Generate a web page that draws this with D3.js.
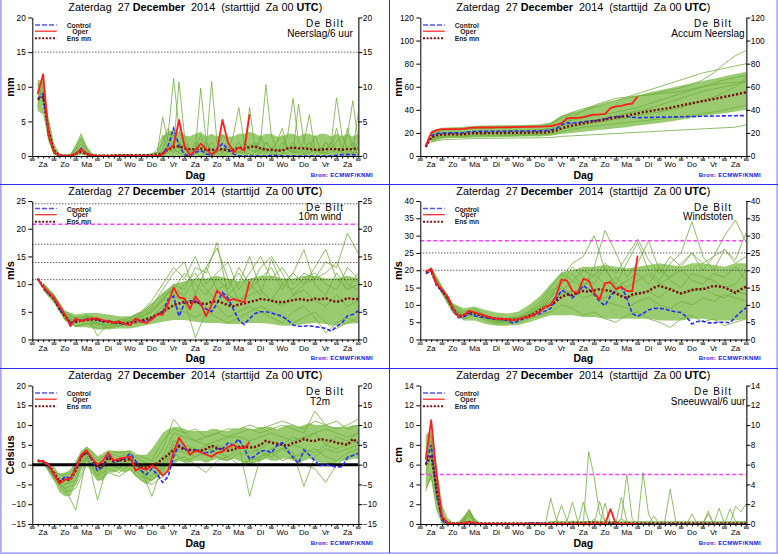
<!DOCTYPE html>
<html>
<head>
<meta charset="utf-8">
<script src="https://cdn.jsdelivr.net/npm/d3@7"></script>
<style>
  body { margin: 0; background: #fff; }
  svg { display: block; }
</style>
</head>
<body>
<script>
// ---- axis labels ----
var dayLabels = ["Za","Zo","Ma","Di","Wo","Do","Vr","Za","Zo","Ma","Di","Wo","Do","Vr","Za"];
var titleParts = [["Zaterdag  27 ", 400], ["December", 700], ["  2014  (starttijd  Za 00 ", 400], ["UTC", 700], [")", 400]];

// ---- panel 1: neerslag per 6 uur (6h steps from +6h) ----
var nsTicks = [0, 5, 10, 15, 20];
var nsLo = [6.5,6,2,0.2,0,0,0,0,0.2,0, 0,0,0,0,0,0,0,0,0,0, 0,0,0,0,0,0,0,0,0,0,
            0,0,0,0,0,0,0,0,0,0, 0,0,0,0,0,0,0,0,0,0, 0,0,0,0,0,0,0,0,0,0];
var nsHi = [11,10.8,5.5,1.8,0.4,0.2,0.3,1.5,3.0,1.5, 0.4,0.2,0.2,0.2,0.2,0.3,0.3,0.3,0.2,0.3,
            0.3,0.4,0.6,2.8,3.5,3.8,3.5,3,2.8,3.2, 3.5,2.8,3.2,2.8,3.2,2.8,2.8,3.2,3.2,3.5,
            3.2,2.8,3.2,3.2,2.8,2.8,3.2,3.2,2.8,3.2, 3.2,2.8,3.2,3.2,2.8,3.2,2.8,3.2,2.8,3.2];
var nsMembers = [
  [9,10,4,0.5,0,0,0,0.5,1.2,0.3, 0,0,0,0,0,0,0,0,0,0, 0,0,0.2,
   1,3,11.2,4,1,0.5,2,1,0.5,2, 1,0.5,1,3,7,2,1,0.5,2,10.3, 3,1,0.5,1,2,1,0.5,1,3,1, 0.5,2,8.4,3,1,2,1],
  [8,9,3,0.3,0,0,0.2,1,2.5,0.8, 0.1,0,0,0,0,0,0,0,0,0.1, 0.1,0.3,0.5,
   5.6,2,1,10.7,3,0.5,1,9.8,2,0.5, 1,0.5,2,1,0.5,1,7,1,0.5,2, 1,0.5,1,3,8.3,2,1,0.5,1,0.5, 2,1,0.5,1,3,8,2],
  [10.5,8,5,1,0.2,0,0,1.5,3.2,1, 0.2,0,0,0,0,0,0.2,0.2,0,0, 0,0.3,0.5,
   2,4,1,0.5,2,0.5,1,3,1,10.8, 2,1,0.5,1,2,0.5,1,0.5,3,1, 0.5,2,4,1,0.5,1,2,6,1,0.5, 1,2,1,0.5,4,1,6.3],
  [7,11,3,0.2,0,0,0,0.3,0.8,0.2, 0,0,0,0,0,0,0,0,0,0, 0,0,0.1,
   0.5,1.5,3,2,0.5,0,0.5,1,0.5,0, 0.5,1,1,0.5,0.5,1,1.5,2,1,0.5, 1,2,3,1,0.5,0.5,1,2,1,0.5, 0.5,1,2,3,1,0.5,1],
  [8.5,9.5,2.5,0.5,0.1,0,0,0.8,1.8,0.5, 0,0,0,0,0,0,0,0,0,0, 0,0.2,1,
   3,1,0.5,2,1,0.5,0.2,1,2,1, 0.5,3,2,1,0.5,2,1,0.5,1,2, 1,0.5,2,1,0.5,7.5,2,1,0.5,1, 2,1,4,1,0.5,1,2],
  [9,9,4,0.5,0,0,0,0.5,1,0.3, 0,0,0,0,0,0,0,0,0,0, 0,0,0,
   0,0.5,1,0.5,0,0,0.5,0,0.3,0, 0.5,0,0.5,1,0.5,0.5,0.3,0,0.5,1, 0.5,0,0.3,0.5,1,0.5,0.3,0.5,1,0.5, 0.3,0.5,1,0.5,0.3,0.5,0.5]
];
var nsControl = [8.2,9,3,0.5,0,0,0,0.3,1.1,0.3, 0,0,0,0,0,0,0,0,0,0, 0,0,0,
                 0.3,1.5,4.0,1.5,0.2,0,0.5,0.8,0.3,0.1, 1.0,1.8,1.0,0.3,0,0,0,0,0,0,
                 0.1,0.1,0,0,0,0,0,0,0,0, 0,0,0.1,0.2,0.2,0.2,0.1];
var nsOper = [9,11.8,3,0.5,0.1,0,0,0.3,1.0,0.3, 0.1,0,0,0,0,0,0,0,0,0, 0,0,0,0.2,
              1.0,1.5,5.2,1.5,0.1,0.8,1.8,1.0,0.2,0.8,5.2,2,0.5,1.2,0.8,6.0];
var nsMean = [8.2,8.5,3.5,0.8,0.1,0.05,0.05,0.3,0.6,0.3, 0.1,0.05,0.05,0.05,0.1,0.1,0.1,0.1,0.1,0.1, 0.1,0.1,0.2,
              0.4,0.9,1.3,1.4,1.1,1.0,1.0,1.1,0.9,0.9, 0.9,1.0,0.8,0.9,1.2,1.1,1.3,1.4,1.1,0.9,
              0.9,0.8,0.8,1.1,1.2,1.1,1.1,1.0,0.9,0.9, 1.0,1.0,1.0,0.9,1.0,1.0,1.1];

// ---- panel 2: accumulated neerslag (band/members 12h steps from +12h) ----
var acTicks = [0, 20, 40, 60, 80, 100, 120];
var acLo = [12,15,15.5,15.5,16,16,16.2,16.4,16.6,16.8, 17,17.5,19,20,21,22,23,24,25,26.5,
            27.5,28.5,30,31.5,33,34.5,36,37,38.5,40];
var acHi = [22,24.5,25,25.3,26.3,26.5,26.6,26.7,26.8,27, 27.2,29,35,38,40,43,45,47.5,50,52.5,
            55,57,59,61,63,65,67,69,71,73];
var acMembers = [
  [20,23,23.5,24,25,25.2,25.4,25.6,25.8,26, 26.3,28,34,38,41,43,46,48,50,52, 53,55,57,59,62,66,72,80,87,91.5],
  [19,22,22.5,22.8,23.8,24,24.2,24.4,24.6,24.8, 25,27,33,36,39,42,45,48,51,54, 57,60,63,66,69,72,74,76,78,80],
  [12,14,14.5,14.8,15.2,15.3,15.4,15.5,15.6,15.7, 15.8,16,17,17.5,18,18.5,19,19.5,20,20.5, 21,21.5,22,22.5,23,23.5,24,24.5,25,27],
  [17,20,20.5,20.7,21.5,21.7,21.9,22,22.2,22.4, 22.6,24,29,31,33,35,36,38,40,42, 45,48,51,54,57,60,63,66,68,70],
  [15,18,18.5,18.7,19.5,19.7,19.9,20,20.2,20.3, 20.5,22,26,28,30,31,33,35,37,39, 41,44,47,50,53,56,58,60,62,64],
  [14,17,17.3,17.5,18,18.2,18.3,18.4,18.5,18.7, 18.9,20,23,25,27,29,30,32,33,35, 37,38,40,42,45,48,51,55,60,68],
  [16,19,19.5,19.7,20.3,20.5,20.7,20.9,21,21.2, 21.4,23,27,33,40,44,47,50,51,52, 53,54,55,56,58,60,62,63,64,65],
  [13,16,16.4,16.6,17.2,17.4,17.5,17.6,17.8,18, 18.2,19,21,23,25,26,27,28,29,30, 31,32,33,34,35,37,38,40,42,44]
];
var acControl = [8,17.5,19.5,19.8,20,20,20,20.2,21,21.2,
                 21.3,21.3,21.4,21.4,21.5,21.5,21.6,21.6,21.7,21.7,21.8,21.9,22.0,
                 22.5,23.5,27,28.5,28.8,28.8,29.5,30.3,30.8,31,32,33.5,34,34.2,34.2,33.5,33.2,
                 33.3,33.4,33.5,33.6,33.7,33.8,33.9,34,34.1,34.2,34.3,34.4,34.5,34.6,34.7,34.8,34.9,34.9,35,35];
var acOper = [9,20,22.5,23.2,23.3,23.3,23.3,23.5,24.3,24.6, 24.7,24.7,24.7,24.8,24.8,24.9,25,25.1,25.2,25.3,
              25.4,25.5,25.6,25.9, 27,28.5,32.5,33,33,33.7,35,35.8,36,36.5, 41.5,43,43.5,44.8,45.5,51.5];
var acMean = [8,16,18,18.5,18.7,18.7,18.7,18.8,19.5,19.7,
              19.7,19.8,19.8,19.9,19.9,20,20,20.1,20.1,20.2,20.3,20.4,20.5,
              21,22,24,25.5,26.5,27.5,28.3,29.2,30,30.8, 31.6,32.5,33.2,34,35,36,37,38,38.8,39.5,
              40.3,41,41.8,42.8,43.8,44.8,45.8,46.7,47.5,48.5, 49.4,50.3,51.3,52.2,53.2,54.2,55.3];

// ---- panel 3: 10m wind (band/members 12h) ----
var wiTicks = [0, 5, 10, 15, 20, 25];
var wiBft = [10.8, 13.9, 17.2, 24.5];
var wiStorm = [20.8];
var wiLo = [8.8,6.5,3.5,2.2,2.2,1.8,1.8,2,2,2.4, 2.8,3.2,3.5,3.5,3.2,3,3,2.8,2.8,3, 3,2.8,2.5,2.5,2.8,3,2.8,2.5,2.8,3];
var wiHi = [10,8.2,5.2,4.5,4.8,4.8,4.5,4.2,4.2,5, 6.5,8.5,10,10.5,11,11,11.5,11,10.5,11, 11.5,11.5,11,11,11.5,11.5,11,11,11.5,11];
var wiMembers = [
  [9.8,7.8,4.2,3.5,3.8,2.5,3.5,3,3.5,4, 5,7,10,9,13,12,17.5,8,10,15, 9,7,10,12,16.2,10,8,12,9,10],
  [10,7.5,4.5,3,4.5,0.6,2.8,2.5,3.2,4.5, 6,9,12,14,8,13,16.5,11,7,9, 13,15,12,8,10,13,16.3,11,9,12],
  [9.5,7,3.8,2.5,2.8,3,2,2.5,3,3.5, 4,6,8,7,0.3,5,6,4,5,6, 5,4,3,5,6,4,1.2,3,4,3],
  [10,8,4.5,4,4,3.5,3,3.5,4,5, 7,10,13,11,15,10,12,14,9,12, 15,11,13,10,12,11,14,13,19.2,15.5],
  [9.3,7.2,3.5,2.3,3,2,2.2,2.5,2.8,3, 4,5,6,5,4,5,4,3,4,5, 6,5,4,3,4,5,3,2,3,4],
  [10.2,8,5,3.8,4.3,3.8,3.2,3.2,3.8,4.8, 6.5,8,9,12,10,8,11,9,13,10, 8,14.5,10,9,11,12,10,9,13,11],
  [9.6,7.5,4,3,3.5,3,2.5,2.8,3.5,4, 5.5,7,8,10,12,9,7,8,7,8, 9,7,6,8,9,7,6,8,6,7],
  [10,7.8,4.4,3.2,3.6,2.8,2.6,3,3.2,4.2, 5,7.5,9,8,11,13,9,10,12,9, 11,13,9,12,10,11,12,14,10,9]
];
var wiControl = [11,9.3,8.3,7.3,5.5,4.5,2.8,3.5,3.4,3.7, 3.8,3.6,3.2,3.4,3.0,3.0,2.7,2.8,3.6,3.5,
                 3.2,3.8,4.5,5.0,7.2,7.8,4.2,6.5,7.0,7.0, 6.2,5.5,5.0,6.5,8.5,7.5,5.5,3.5,2.7,3.8,
                 4.7,5.0,5.0,4.8,4.5,4.2,3.5,2.6,2.4,2.4, 2.5,2.3,2.2,2.0,1.5,2.3,3.0,4.3,4.5,5.2];
var wiOper = [11,9.5,8.5,7.5,6,4.5,2.4,3.8,3.3,3.6, 3.8,3.8,3.5,3.3,3.0,3.3,2.8,2.6,3.8,3.2,
              3.0,3.6,4.5,4.5,6.5,9.4,7.6,7.4,5.5,7.8, 6.5,4.2,6.3,8.8,8.0,7.0,7.3,7.0,6.7,10.5];
var wiMean = [11,9.5,8.3,7.3,5.5,4.2,3.0,3.2,3.4,3.5, 3.6,3.5,3.3,3.2,3.1,3.0,2.9,3.0,3.2,3.4,
              3.7,4.0,4.5,5.0,5.6,6.2,6.5,6.8,6.6,6.8, 6.5,6.4,6.8,6.9,6.6,6.2,6.0,6.3,6.5,6.8,
              7.0,7.3,7.2,7.0,6.8,6.7,6.9,7.1,7.3,7.2, 7.0,7.4,7.2,7.5,7.0,6.8,7.0,7.5,7.3,7.3];

// ---- panel 4: windstoten (band/members 12h) ----
var gsTicks = [0, 5, 10, 15, 20, 25, 30, 35, 40];
var gsDotted = [20, 25];
var gsStorm = [28.5];
var gsLo = [19,13,7.5,5.5,5.5,4.5,4,4,4.2,5, 6,7,7,7,6.5,6.5,6,6,6,6, 6,5.5,5.5,5.5,6,6,5.5,5.5,5.5,6];
var gsHi = [21,15.5,10.5,9,9.5,8.5,7.8,7.5,8,10, 12.5,16,19.5,20,21,21,21.5,21,20.5,21, 21.5,22,21.5,21,22,22,21.5,21,22,22];
var gsMembers = [
  [20,14,9,7,8,6,5.5,5.5,6,7, 9,12,18,22,24,30,20,16,22,28, 20,17,22,25,34,24,20,26,22,24],
  [20.5,15,10,8,9,7,6,6,6.5,8, 10,14,16,19,15,21,31.5,25,18,22, 28.5,20,18,22,25,20,24,30,34.5,28],
  [19,13.5,8,6,7,5.5,4.5,4.5,5,6, 7,8,10,9,7,8,6,5,7,8, 6,5,3.5,6,7,5,6,4,5,6],
  [20,14.5,9.5,7.5,8.5,7,6,6,6.5,8, 11,15,19,17,20,18,22,19,24,29, 23,19,24,21,25,22,24,26,23,31],
  [19.5,14,8.5,6.5,7.5,6.5,5,5,5.5,7, 8,11,13,14,12,13,11,10,9,11, 12,10,9,11,10,12,11,13,12,11],
  [20,14,9,7,8,6.5,5.5,5.5,6,7.5, 9.5,13,16,21,18,16,21,15,17,19, 16,21,17,15,19,18,17,15,16,20],
  [19.5,14,9,7,8,6,5,5.5,6,7, 9,12,15,13,16,13,12,14,12,13, 14,12,15,13,14,15,13,12,14,13],
  [20,14.5,9,6.8,7.8,6.2,5.2,5.2,5.8,7.2, 9,11,14,17,15,19,16,18,15,17, 19,16,18,20,17,16,19,18,21,17]
];
var gsControl = [19,19.8,15.5,14,12,8.5,6.3,6.5,7.5,6.8, 6.5,6.3,6.0,5.8,5.8,5.5,4.8,5.3,6,6.5,
                 7.0,7.5,8.2,9.0,11.5,14.2,13.5,12.0,13.5,15.5, 14.5,13.0,11.0,9.8,12.5,14.5,15.3,12.0,7.5,6.7,
                 7.5,8.5,9.0,9.0,8.8,8.3,8.0,7.8,6.5,4.5, 5.2,5.3,4.8,4.8,5.0,5.0,4.8,6.5,8.0,9.2];
var gsOper = [19.5,20.5,16,14.5,12.5,9,6.5,7.0,8.3,7.8, 7.3,6.8,6.3,6.0,6.0,5.8,5.6,5.8,6.3,6.5,
              7.2,8.0,9.5,10.0,12.5,17.3,17.0,14.0,13.5,17.5, 17.0,13.5,11.5,16.3,16.5,14.5,15.2,14.0,14.0,24.2];
var gsMean = [19.5,20,16,14,12,9,6.8,7.0,8.0,7.5, 7.0,6.7,6.3,6.0,5.9,5.8,5.7,5.9,6.3,6.8,
              7.5,8.5,9.3,10.0,11.0,12.3,13.0,12.8,13.5,14.0, 13.8,14.2,14.5,14.3,14.0,13.3,12.5,12.0,13.0,13.3,
              13.5,14.0,15.0,15.5,15.0,14.5,13.8,13.3,13.8,14.3, 14.5,14.5,15.0,15.5,15.3,15.0,14.3,13.5,14.5,15.3];

// ---- panel 5: T2m (band 6h, members 12h) ----
var tTicks = [-15, -10, -5, 0, 5, 10, 15, 20];
var tLo = [0.5,0.3,-1.5,-4,-7,-8,-8,-5,-1,1, -2,-4,-4,-2,-2,-1.5,-2,-1.5,-3,-4,
           -5,-4,-3,-2.5,-1,0,1,0.5,0.5,1, 1,0.5,1,1.5,1,1,1.5,1,0.5,0,
           0.5,1,1.5,1,1,1.5,1.5,1,0.5,1, 1.5,1,0.5,0.5,0,0.5,1,1,1.5,1.5];
var tHi = [1.3,1.2,0.5,-0.5,-2.5,-2,-1.5,1,3.5,4.5, 3.5,2,2.5,3.5,3.5,3.5,3.5,3.5,2.5,2.5,
           2.5,4,6,8,9,9.5,9.5,9,8.5,8.5, 8.5,8.5,9,9,8.5,8.5,9,9,9.5,9,
           9,9.5,9.5,9.5,9,9.5,10,10,9.5,10, 10.5,10,10,10,9.5,9.5,9.5,9.5,10,10];
var tMembers = [
  [0.5,-4,-6,-11.5,2,-3,2,0,1.5,-2, -4,-2,5,4,3,5,3,4,6,3, 4,6,5,7,6,8,5,7,6,8],
  [1,-3,-5,-3,3,-9,1,-1,2,-1, -8,0,6,5,4,3,5,4,5,-8, 2,4,5,3,-5.5,2,4,3,4,5],
  [1,-2,-3,-1,4,1,3,2,3,1, 0,4,11.5,8,6,7,8,7,8,9, 8,9,10,9,8,13.5,10,9,10,11.5],
  [0.8,-3.5,-7,-6,0,-4,-2,-3,-1,-4, -5,-3,1,2,0,-2,1,2,0,1, 2,3,1,2,0,-1,-4.5,0,2,3],
  [1,-2.5,-4,-2,3,0,2,1,2,0, -1,2,8,7,6,5,6,7,7,6, 7,8,7,6,7,8,9,8,7,8],
  [0.5,-3,-5,-4,2,-2,0,-1,1,-2, -3,0,4,3,2,3,2,1,3,2, 1,3,4,2,3,4,2,1,3,4],
  [1,-2,-2.5,0,4.5,2,3.5,3,3.5,2, 1,6,9,8,9,7,8,9,9,10, 9,10,11,10,9,11,10,11,9,10],
  [0.7,-3,-6,-5,1,-3,-1,-2,0,-3, -4,-1,3,1,2,4,3,2,4,5, 3,2,4,5,4,3,5,4,5,6]
];
var tControl = [1.0,0.8,-0.5,-2.5,-4.5,-3.0,-3.5,-0.5,2.0,3.3, 1.0,-1.5,-0.5,2.5,0.5,1.0,1.5,2.8,1.0,-1.5,
                -2.5,-1.0,-2.5,-4.5,-3.0,2.0,5.0,4.0,3.5,3.8, 3.2,3.0,3.2,4.0,4.0,5.5,5.0,6.5,4.0,1.4,
                2.2,3.4,3.6,3.0,4.8,5.6,3.5,1.8,0.3,3.7, 2.4,1.0,-0.3,0.0,-0.3,-0.6,-0.5,1.8,2.3,2.8];
var tOper = [1.0,0.8,0.0,-2.5,-4.8,-3.8,-3.6,-1.0,2.5,3.6, 1.5,0.0,1.0,3.0,1.0,1.5,1.8,2.0,-1.5,-0.8,
             -1.3,-0.3,-1.0,-2.8,-1.5,3.0,6.8,4.8,2.5,3.5, 3.2,2.5,2.0,3.0,3.2,4.5,5.0,4.2,4.2,5.7];
var tMean = [1.0,0.8,0.0,-2.0,-4.3,-3.8,-3.8,-1.5,2.0,3.2, 1.5,-0.8,-0.3,1.8,0.8,1.2,1.0,1.5,0.0,-0.5,
             -0.8,0.0,0.3,1.5,2.5,3.8,4.5,3.8,3.8,3.5, 3.5,4.0,4.8,4.2,3.8,3.5,3.8,4.5,4.5,4.3,
             4.5,5.0,6.0,5.5,5.3,5.0,4.8,5.5,5.8,6.5, 6.0,6.0,6.5,6.2,6.0,5.5,5.3,5.0,6.5,5.5];

// ---- panel 6: sneeuwval per 6 uur (6h steps) ----
var snTicks = [0, 2, 4, 6, 8, 10, 12, 14];
var snAlarm = [5];
var snLo = [3.5,4.5,1.5,0,0,0,0,0,0,0, 0,0,0,0,0,0,0,0,0,0, 0,0,0,0,0,0,0,0,0,0,
            0,0,0,0,0,0,0,0,0,0, 0,0,0,0,0,0,0,0,0,0, 0,0,0,0,0,0,0,0,0,0];
var snHi = [9,9.5,6,2,0.6,0.2,0.2,0.8,1.5,0.6, 0.15,0.15,0.15,0.15,0.15,0.15,0.15,0.15,0.15,0.15,
            0.15,0.15,0.15,0.3,0.3,0.3,0.3,0.3,0.3,0.3, 0.3,0.3,0.3,0.3,0.3,0.3,0.3,0.3,0.3,0.3,
            0.3,0.3,0.3,0.3,0.3,0.3,0.3,0.3,0.3,0.3, 0.3,0.3,0.3,0.3,0.3,0.3,0.3,0.3,0.3,0.3];
var snMembers = [
  [6,8,3,0.3,0,0,0,0.5,1.5,0.3, 0,0,0,0,0,0,0,0,0,0, 0,0,0,2.6,0.5,0,0,0.3,0,0,
   7.3,4.8,1,0.3,0,0,0.5,0.2,0,0, 5.2,1,0,0,0,0,0,0,0,0, 0,0,0,0,0,0,0,1.8,1.2,2.1],
  [7,9,4,0.5,0,0,0,0.3,1.2,0.2, 0,0,0,0,0,0,0,0,0,0.1, 0,0,0,0,0.3,1.9,0.3,2.2,0.2,0,
   0,0,2.3,0.3,0,0,2.7,0.3,0,0, 0,0,0,0,0,0,0,0,0,0, 0,0,1.0,0,0,0,0,0,0,0],
  [6.5,8.5,3.5,0.4,0,0,0,0.6,1.4,0.3, 0,0,0,0,0,0,0,0,0,0, 0,0,0,0,0,0,0,0,0,2.2,
   0.3,0,0,0,0,0,0.5,5.0,0.5,0, 0,0,0,0,0.3,3.5,0.3,0,0,1.0, 0,0,1.3,0,1.6,0,0,0,0,0],
  [5,7,2.5,0.2,0,0,0,0.4,1.0,0.2, 0,0,0,0,0,0,0,0,0,0, 0,0,0,0,0,0,0,0,0,0,
   0,0.5,0,2.1,0,0,0,0,0,0, 0,0,0.8,0,0,0,0,0,0,0, 0,0,0,0,0,0,1.5,0.3,0,0],
  [3.3,5,1.5,0.1,0,0,0,0.3,0.8,0.1, 0,0,0,0,0,0,0,0,0,0, 0,0,0,0,0,0,0,0,0,0,
   0,0,0,0,0,0,0,0,0,0, 0,0,0,0,0,0,0,0,0,0, 0,0,0,0,0,0,0,0,0,0]
];
var snControl = [6,8,3,0.4,0,0,0,0.1,0.1,0, 0,0,0,0,0,0,0,0,0,0.1, 0.1,0.1,0,0,0,0,0,0,0,0,
                 0,0,0,0,0,0,0,0,0,0, 0,0,0,0,0,0,0,0,0,0, 0,0,0,0,0,0,0,0,0,0];
var snOper = [6.5,10.5,5,0.8,0.1,0,0,0.1,0.2,0.1, 0,0,0,0,0,0,0,0,0,0,
              0,0,0,0,0,0,0,0,0,0, 0,0,0,0,1.5,0,0,0,0,0];
var snMean = [6,7,3.5,0.6,0.1,0.05,0.05,0.1,0.2,0.1, 0.05,0.05,0.05,0.05,0.05,0.05,0.05,0.05,0.05,0.05,
              0.05,0.05,0.05,0.05,0.05,0.05,0.05,0.1,0.1,0.1, 0.15,0.15,0.1,0.1,0.1,0.1,0.05,0.05,0.05,0.05,
              0.05,0.05,0.05,0.05,0.05,0.05,0.05,0.05,0.05,0.05, 0.05,0.05,0.05,0.05,0.05,0.05,0.05,0.05,0.05,0.05];

// ---- panel table ----
var panels = [
  {col:0, row:0, unit:"mm", name:"Neerslag/6 uur", domain:[0,20], ticks:nsTicks, bandStep:6, memberStep:6,
   lo:nsLo, hi:nsHi, members:nsMembers, control:nsControl, oper:nsOper, mean:nsMean, dotted:[15], storm:[], zero:false},
  {col:1, row:0, unit:"mm", name:"Accum Neerslag", domain:[0,120], ticks:acTicks, bandStep:12, memberStep:12,
   lo:acLo, hi:acHi, members:acMembers, control:acControl, oper:acOper, mean:acMean, dotted:[], storm:[], zero:false},
  {col:0, row:1, unit:"m/s", name:"10m wind", domain:[0,25], ticks:wiTicks, bandStep:12, memberStep:12,
   lo:wiLo, hi:wiHi, members:wiMembers, control:wiControl, oper:wiOper, mean:wiMean, dotted:wiBft, storm:wiStorm, zero:false},
  {col:1, row:1, unit:"m/s", name:"Windstoten", domain:[0,40], ticks:gsTicks, bandStep:12, memberStep:12,
   lo:gsLo, hi:gsHi, members:gsMembers, control:gsControl, oper:gsOper, mean:gsMean, dotted:gsDotted, storm:gsStorm, zero:false},
  {col:0, row:2, unit:"Celsius", name:"T2m", domain:[-15,20], ticks:tTicks, bandStep:6, memberStep:12,
   lo:tLo, hi:tHi, members:tMembers, control:tControl, oper:tOper, mean:tMean, dotted:[], storm:[], zero:true},
  {col:1, row:2, unit:"cm", name:"Sneeuwval/6 uur", domain:[0,14], ticks:snTicks, bandStep:6, memberStep:6,
   lo:snLo, hi:snHi, members:snMembers, control:snControl, oper:snOper, mean:snMean, dotted:[], storm:snAlarm, zero:false}
];

// ---- layout ----
var width = 778, height = 554;
var colX = [0, 388];
var rowY = [0, 183.5, 368];
var plotL = 32.3, plotR = 358.3, plotT = 17.5, plotB = 156;
var font = '"Liberation Sans", Arial, Helvetica, sans-serif';

var svg = d3.select("body").append("svg")
  .attr("width", width)
  .attr("height", height)
  .style("font-family", font);

svg.append("rect").attr("width", width).attr("height", height).attr("fill", "#fff");

panels.forEach(drawPanel);

// panel frame lines
svg.append("path")
  .attr("d", "M0.8,0 V553.2 H777.2 V0")
  .attr("fill", "none").attr("stroke", "#a9a9f5").attr("stroke-width", 1.8);
svg.append("line").attr("x1", 389.5).attr("x2", 389.5).attr("y1", 0).attr("y2", 553)
  .attr("stroke", "#2d2df0").attr("stroke-width", 1);
[184.5, 368.5].forEach(function(yy){
  svg.append("line").attr("x1", 0).attr("x2", 778).attr("y1", yy).attr("y2", yy)
    .attr("stroke", "#2d2df0").attr("stroke-width", 1);
});

function drawPanel(p) {
  var x0 = colX[p.col], y0 = rowY[p.row];
  var g = svg.append("g");

  var x = d3.scaleLinear().domain([0, 360]).range([x0 + plotL, x0 + plotR]);
  var y = d3.scaleLinear().domain(p.domain).range([y0 + plotB, y0 + plotT]);

  // ensemble core band
  var band = d3.area()
    .x(function(d, i){ return x(p.bandStep * (i + 1)); })
    .y0(function(d){ return y(d[0]); })
    .y1(function(d){ return y(d[1]); });
  g.append("path")
    .datum(d3.zip(p.lo, p.hi))
    .attr("d", band)
    .attr("fill", "#9acb70");

  // individual ensemble members
  var memberLine = d3.line()
    .x(function(d, i){ return x(p.memberStep * (i + 1)); })
    .y(function(d){ return y(d); });
  g.selectAll(".member")
    .data(p.members)
    .enter()
    .append("path")
    .attr("class", "member")
    .attr("d", memberLine)
    .attr("fill", "none")
    .attr("stroke", "#72ae3e")
    .attr("stroke-width", 0.8);

  // reference levels
  p.dotted.forEach(function(v){
    g.append("line").attr("x1", x(0)).attr("x2", x(360)).attr("y1", y(v)).attr("y2", y(v))
      .attr("stroke", "#000").attr("stroke-width", 0.9).attr("stroke-dasharray", "1,2");
  });
  p.storm.forEach(function(v){
    g.append("line").attr("x1", x(0)).attr("x2", x(360)).attr("y1", y(v)).attr("y2", y(v))
      .attr("stroke", "#ff3cff").attr("stroke-width", 1.6).attr("stroke-dasharray", "4,2.5");
  });
  if (p.zero) {
    g.append("line").attr("x1", x(0)).attr("x2", x(360)).attr("y1", y(0)).attr("y2", y(0))
      .attr("stroke", "#000").attr("stroke-width", 3);
  }

  var line6 = d3.line()
    .x(function(d, i){ return x(6 * (i + 1)); })
    .y(function(d){ return y(d); });

  g.append("path").datum(p.control).attr("d", line6)
    .attr("fill", "none").attr("stroke", "#2a2aff").attr("stroke-width", 1.6)
    .attr("stroke-dasharray", "4,2");
  g.append("path").datum(p.mean).attr("d", line6)
    .attr("fill", "none").attr("stroke", "#7a1010").attr("stroke-width", 2.4)
    .attr("stroke-dasharray", "2.2,1.8");
  g.append("path").datum(p.oper).attr("d", line6)
    .attr("fill", "none").attr("stroke", "#ff1e1e").attr("stroke-width", 1.8)
    .attr("stroke-linejoin", "round");

  // axes
  var yLeft = d3.axisLeft(y).tickValues(p.ticks).tickSize(4).tickSizeOuter(0).tickPadding(2.5);
  var yRight = d3.axisRight(y).tickValues(p.ticks).tickSize(4).tickSizeOuter(0).tickPadding(0.5);
  var xBottom = d3.axisBottom(x).tickValues(d3.range(0, 361, 6)).tickSize(2.5).tickSizeOuter(0).tickFormat("");

  var gl = g.append("g").attr("transform", "translate(" + (x0 + plotL) + ",0)").call(yLeft);
  var gr = g.append("g").attr("transform", "translate(" + (x0 + plotR) + ",0)").call(yRight);
  g.append("g").attr("transform", "translate(0," + (y0 + plotB) + ")").call(xBottom);
  [gl, gr].forEach(function(a){
    a.attr("font-size", 8.3).attr("font-family", font);
    a.selectAll("text").attr("fill", "#000");
  });
  gr.select(".domain").attr("stroke", "#555").attr("stroke-width", 1.6);

  // hour and day labels
  g.selectAll(".hh")
    .data(d3.range(0, 361, 24))
    .enter().append("text")
    .attr("x", function(d){ return x(d); })
    .attr("y", y0 + plotB + 5.2)
    .attr("text-anchor", "middle")
    .attr("font-size", 4.4)
    .attr("font-weight", 700)
    .text("00");
  g.selectAll(".day")
    .data(dayLabels)
    .enter().append("text")
    .attr("x", function(d, i){ return x(24 * i + 12); })
    .attr("y", y0 + plotB + 11.4)
    .attr("text-anchor", "middle")
    .attr("font-size", 7.8)
    .text(function(d){ return d; });

  // titles
  var title = g.append("text")
    .attr("x", x0 + 195.3).attr("y", y0 + 11)
    .attr("text-anchor", "middle")
    .attr("font-size", 10.8)
    .attr("textLength", 254)
    .attr("lengthAdjust", "spacing")
    .style("white-space", "pre");
  titleParts.forEach(function(t){
    title.append("tspan").attr("font-weight", t[1]).text(t[0]);
  });

  g.append("text").attr("x", x0 + 324.5).attr("y", y0 + 27.2)
    .attr("text-anchor", "middle").attr("font-size", 10)
    .attr("textLength", 37).attr("lengthAdjust", "spacing").text("De Bilt");
  g.append("text").attr("x", x0 + 320).attr("y", y0 + 36.8)
    .attr("text-anchor", "middle").attr("font-size", 10).text(p.name);

  g.append("text")
    .attr("transform", "translate(" + (x0 + 14.3) + "," + (y0 + 87) + ") rotate(-90)")
    .attr("text-anchor", "middle").attr("font-size", 11).attr("font-weight", 700)
    .text(p.unit);

  g.append("text").attr("x", x0 + 195.3).attr("y", y0 + 178.8)
    .attr("text-anchor", "middle").attr("font-size", 10.5).attr("font-weight", 700)
    .text("Dag");
  g.append("text").attr("x", x0 + 310.7).attr("y", y0 + 176.7)
    .attr("font-size", 6).attr("font-weight", 700).attr("fill", "#1414e6")
    .attr("textLength", 62).attr("lengthAdjust", "spacing")
    .text("Bron: ECMWF/KNMI");

  // legend
  var lx1 = x0 + 35, lx2 = x0 + 56.7;
  g.append("line").attr("x1", lx1).attr("x2", lx2).attr("y1", y0 + 25).attr("y2", y0 + 25)
    .attr("stroke", "#5050ff").attr("stroke-width", 1.6).attr("stroke-dasharray", "5,2");
  g.append("line").attr("x1", lx1).attr("x2", lx2).attr("y1", y0 + 31.2).attr("y2", y0 + 31.2)
    .attr("stroke", "#ff1e1e").attr("stroke-width", 1.2);
  g.append("line").attr("x1", lx1).attr("x2", lx2).attr("y1", y0 + 38.2).attr("y2", y0 + 38.2)
    .attr("stroke", "#7a1010").attr("stroke-width", 2).attr("stroke-dasharray", "2,1.6");
  [["Control", 66.7, 28], ["Oper", 72.3, 33.5], ["Ens mn", 66.7, 40.5]].forEach(function(l){
    g.append("text").attr("x", x0 + l[1]).attr("y", y0 + l[2])
      .attr("font-size", 6.8).attr("font-weight", 700).attr("fill", "#222")
      .text(l[0]);
  });
}
</script>
</body>
</html>
